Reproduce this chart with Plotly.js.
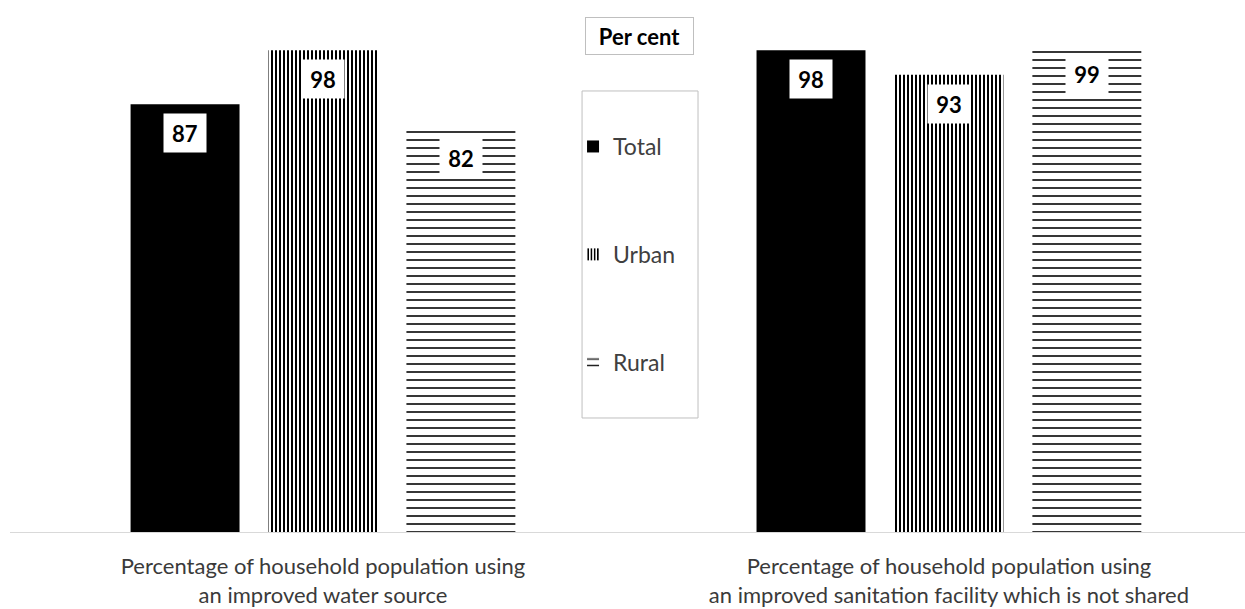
<!DOCTYPE html>
<html>
<head>
<meta charset="utf-8">
<script src="https://cdn.plot.ly/plotly-3.0.1.min.js"></script>
<style>html,body{margin:0;padding:0;background:#fff;}#chart{width:1245px;height:609px;}</style>
</head>
<body>
<div id="chart"></div>
<script>
// ---- data ----
const categories = [
  "Percentage of household population using<br>an improved water source",
  "Percentage of household population using<br>an improved sanitation facility which is not shared"
];
const seriesNames = ["Total", "Urban", "Rural"];
const totalValues = [87, 98];
const urbanValues = [98, 93];
const ruralValues = [82, 99];
const yTitle = "Per cent";

// ---- styling ----
const FONT = "Lato, 'Open Sans', 'Noto Sans', sans-serif";
const BARGAP = 0.339, BARGROUPGAP = 0.21;
const seriesValues = [totalValues, urbanValues, ruralValues];
const markers = [
  {color: "#000000", line: {width: 0}},
  {color: "#ffffff", line: {width: 0}, pattern: {shape: "|", fgcolor: "#000000", bgcolor: "#ffffff", size: 4, solidity: 0.5}},
  {color: "#ffffff", line: {width: 0}, pattern: {shape: "-", fgcolor: "#1a1a1a", bgcolor: "#ffffff", size: 8, solidity: 0.22}}
];

const traces = seriesNames.map((name, i) => ({
  type: "bar",
  name: name,
  x: categories,
  y: seriesValues[i],
  marker: markers[i],
  legendgroup: name,
  hoverinfo: "x+y+name"
}));

// value labels in white boxes, placed at each bar's top
const slot = (1 - BARGAP) / seriesNames.length;
const annotations = [];
seriesValues.forEach((vals, i) => {
  vals.forEach((v, j) => {
    annotations.push({
      x: j + (i - (seriesNames.length - 1) / 2) * slot,
      y: v, xref: "x", yref: "y",
      text: "<b>" + v + "</b>",
      showarrow: false, yanchor: "top", yshift: -9,
      bgcolor: "#ffffff", width: 40, height: 36, borderpad: 1,
      font: {family: FONT, size: 22, color: "#000000"}
    });
  });
});
// "Per cent" boxed label
annotations.push({
  x: 0.510, y: 0.933, xref: "paper", yref: "paper",
  text: "<b>" + yTitle + "</b>", showarrow: false,
  xanchor: "center", yanchor: "middle",
  bgcolor: "#ffffff", bordercolor: "#bfbfbf", borderwidth: 1,
  width: 105, height: 34, borderpad: 1,
  font: {family: FONT, size: 22, color: "#000000"}
});

const layout = {
  width: 1245, height: 609,
  margin: {l: 10, r: 0, t: 0, b: 77, pad: 0},
  paper_bgcolor: "#ffffff", plot_bgcolor: "#ffffff",
  barmode: "group", bargap: BARGAP, bargroupgap: BARGROUPGAP,
  xaxis: {
    type: "category", range: [-0.5, 1.473],
    showline: true, linecolor: "#d9d9d9", linewidth: 1,
    ticks: "", showgrid: false, zeroline: false,
    ticklabelstandoff: 15,
    tickfont: {family: FONT, size: 22, color: "#3a3a3a"}
  },
  yaxis: {range: [0, 108.2], visible: false, showgrid: false, zeroline: false},
  showlegend: true,
  legend: {
    x: 0.4559, y: 0.765, xanchor: "left", yanchor: "top",
    orientation: "v", traceorder: "grouped", tracegroupgap: 75,
    bgcolor: "rgba(0,0,0,0)", borderwidth: 0,
    font: {family: FONT, size: 23, color: "#404040"}
  },
  shapes: [{
    type: "rect", xref: "paper", yref: "paper",
    x0: 0.4632, x1: 0.5571, y0: 0.2143, y1: 0.829,
    line: {color: "#bfbfbf", width: 1}, fillcolor: "rgba(0,0,0,0)", layer: "below"
  }],
  annotations: annotations
};

Plotly.newPlot("chart", traces, layout, {displayModeBar: false, staticPlot: true});
</script>
</body>
</html>
